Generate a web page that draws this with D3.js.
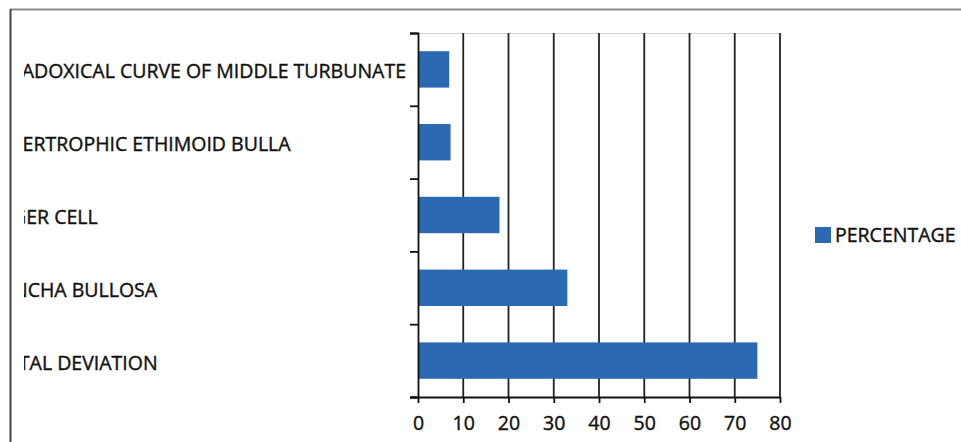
<!DOCTYPE html>
<html>
<head>
<meta charset="utf-8">
<script src="https://cdn.jsdelivr.net/npm/d3@7"></script>
<style>
  html, body { margin: 0; padding: 0; background: #fff; }
  svg { display: block; }
  text { font-family: "Open Sans", "Noto Sans", sans-serif; fill: #111; }
</style>
</head>
<body>
<svg id="chart" width="961" height="442"></svg>
<script>
// Findings, listed top to bottom as drawn
const categories = [
  "PARADOXICAL CURVE OF MIDDLE TURBUNATE",
  "HYPERTROPHIC ETHIMOID BULLA",
  "AGGER CELL",
  "CONCHA BULLOSA",
  "SEPTAL DEVIATION"
];
const percentage = [6.9, 7.2, 18, 33, 75];
const xTicks = [0, 10, 20, 30, 40, 50, 60, 70, 80];
const seriesName = "PERCENTAGE";

const svg = d3.select("#chart");
const W = 961, H = 442;
const plot = { left: 418, right: 780, top: 33, bottom: 397 };
const barColor = "#2b69b2";

// slightly heavier text than the regular face
function inkText(sel) {
  sel.attr("fill", "#111").attr("stroke", "#111").attr("stroke-width", 0.4);
}

// outer frame (top and left edges)
svg.append("line").attr("x1", 10).attr("x2", W).attr("y1", 9.5).attr("y2", 9.5)
  .attr("stroke", "#8a8a8a").attr("stroke-width", 2);
svg.append("line").attr("x1", 10.5).attr("x2", 10.5).attr("y1", 9).attr("y2", H)
  .attr("stroke", "#444").attr("stroke-width", 2);

const x = d3.scaleLinear().domain([0, 80]).range([plot.left, plot.right]);
const y = d3.scaleBand().domain(categories).range([plot.top, plot.bottom])
  .paddingInner(0.5).paddingOuter(0.25);
const yEdge = d3.scaleLinear().domain([0, categories.length]).range([plot.top, plot.bottom]);

// top border of plot area
svg.append("line").attr("x1", plot.left).attr("x2", plot.right)
  .attr("y1", plot.top + 0.5).attr("y2", plot.top + 0.5)
  .attr("stroke", "#cfcfcf").attr("stroke-width", 1);

// vertical gridlines
svg.append("g").selectAll("line").data(xTicks.filter(d => d > 0)).join("line")
  .attr("x1", d => x(d)).attr("x2", d => x(d))
  .attr("y1", plot.top).attr("y2", plot.bottom)
  .attr("stroke", "#222").attr("stroke-width", 1.8);

// bars
svg.append("g").selectAll("rect").data(categories).join("rect")
  .attr("x", x(0))
  .attr("y", d => y(d))
  .attr("width", (d, i) => x(percentage[i]) - x(0))
  .attr("height", y.bandwidth())
  .attr("fill", barColor);

// category axis: ticks at band edges
const yAxis = svg.append("g").attr("transform", `translate(${plot.left},0)`)
  .call(d3.axisLeft(yEdge).tickValues(d3.range(categories.length + 1)).tickFormat("").tickSize(8));
yAxis.selectAll("path, line").attr("stroke", "#111").attr("stroke-width", 1.8);

// value axis
const xAxis = svg.append("g").attr("transform", `translate(0,${plot.bottom})`)
  .call(d3.axisBottom(x).tickValues(xTicks).tickFormat(d3.format("d")).tickSize(6).tickPadding(13));
xAxis.select(".domain").attr("d", `M${plot.left - 8},0.5H${plot.right}`);
xAxis.selectAll("path, line").attr("stroke", "#111").attr("stroke-width", 1.8);
xAxis.selectAll("text").attr("font-size", 19.5)
  .attr("font-family", "'Open Sans', sans-serif").call(inkText);

// category labels, left aligned and clipped at the frame
svg.append("clipPath").attr("id", "labelClip")
  .append("rect").attr("x", 24).attr("y", 0).attr("width", plot.left - 24).attr("height", H);
const labels = svg.append("g").attr("clip-path", "url(#labelClip)");
const lt = labels.selectAll("text").data(categories).join("text")
  .attr("y", d => y(d) + y.bandwidth() / 2 + 9)
  .attr("font-size", 19.5)
  .text(d => d)
  .call(inkText);
const longest = d3.max(lt.nodes(), n => n.getComputedTextLength());
lt.attr("x", 406 - longest);

// legend
const lg = svg.append("g").attr("transform", "translate(815,227)");
lg.append("rect").attr("width", 16).attr("height", 16).attr("fill", barColor);
lg.append("text").attr("x", 20).attr("y", 15).attr("font-size", 19.5)
  .text(seriesName).call(inkText);
</script>
</body>
</html>
